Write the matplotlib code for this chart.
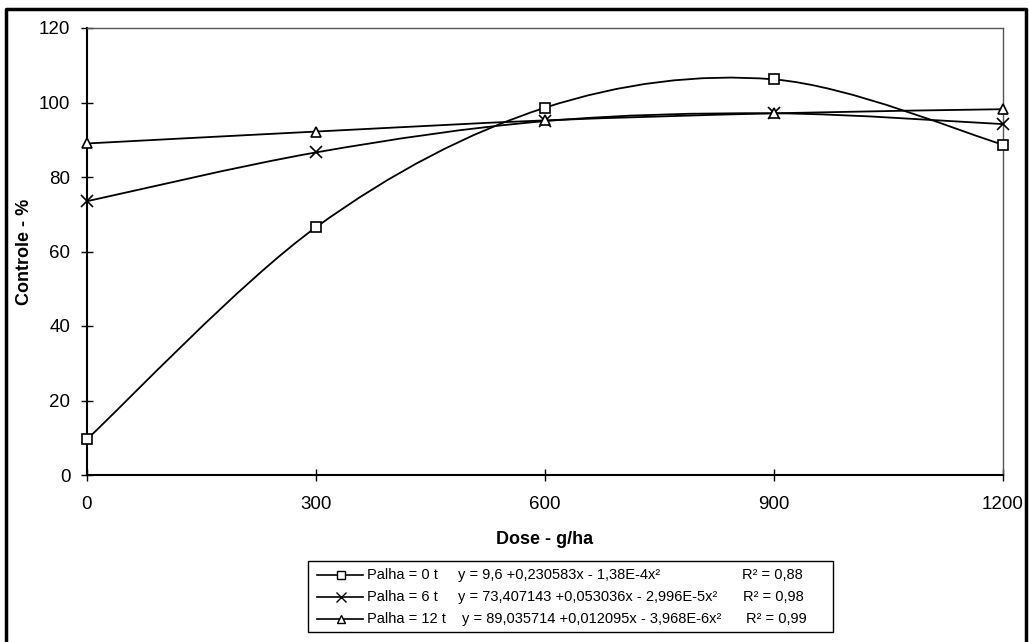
import matplotlib
matplotlib.use("Agg")
import matplotlib.pyplot as plt
import numpy as np
from matplotlib.path import Path
from matplotlib.patches import PathPatch, Rectangle
from matplotlib.lines import Line2D

plt.rcParams["font.family"] = ["Liberation Sans", "DejaVu Sans"]

# data
doses = [0, 300, 600, 900, 1200]
palha_0 = [9.6, 66.5, 98.6, 106.2, 88.7]
palha_6 = [73.5, 86.6, 95.0, 97.1, 94.2]
palha_12 = [89.0, 92.2, 95.2, 97.1, 98.2]

series_labels = ["Palha = 0 t", "Palha = 6 t", "Palha = 12 t"]
equations = [
    "y = 9,6 +0,230583x - 1,38E-4x²",
    "y = 73,407143 +0,053036x - 2,996E-5x²",
    "y = 89,035714 +0,012095x - 3,968E-6x²",
]
r2_labels = ["R² = 0,88", "R² = 0,98", "R² = 0,99"]
markers = ["s", "x", "^"]
msizes = [7, 9, 7.5]


def smooth_path(x, y):
    """Excel-like smoothed line: cubic Bezier with Catmull-Rom control points."""
    pts = np.column_stack([x, y]).astype(float)
    n = len(pts)
    verts = [pts[0]]
    codes = [Path.MOVETO]
    for i in range(n - 1):
        p0 = pts[max(i - 1, 0)]
        p1 = pts[i]
        p2 = pts[i + 1]
        p3 = pts[min(i + 2, n - 1)]
        c1 = p1 + (p2 - p0) / 6.0
        c2 = p2 - (p3 - p1) / 6.0
        verts += [c1, c2, p2]
        codes += [Path.CURVE4] * 3
    return Path(verts, codes)


fig = plt.figure(figsize=(10.29, 6.42), dpi=100)
ax = fig.add_axes([87 / 1029, 1 - 475 / 642, 916 / 1029, 447 / 642])

for yy, mk, ms in zip([palha_0, palha_6, palha_12], markers, msizes):
    ax.add_patch(PathPatch(smooth_path(doses, yy), facecolor="none",
                           edgecolor="black", lw=1.3, zorder=2))
    ax.plot(doses, yy, ls="none", marker=mk, ms=ms, mfc="white", mec="black",
            mew=1.2, zorder=3, clip_on=False)

ax.set_xlim(0, 1200)
ax.set_ylim(0, 120)
ax.set_xticks(doses)
ax.set_yticks(np.arange(0, 121, 20))
ax.tick_params(direction="inout", length=8, width=1, labelsize=13.5)
ax.tick_params(axis="y", pad=8)
ax.tick_params(axis="x", pad=11)
for s in ["left", "bottom"]:
    ax.spines[s].set_linewidth(1.5)
    ax.spines[s].set_color("black")
for s in ["top", "right"]:
    ax.spines[s].set_linewidth(1.0)
    ax.spines[s].set_color("#555555")

ax.set_xlabel("Dose - g/ha", fontsize=13, fontweight="bold")
ax.set_ylabel("Controle - %", fontsize=13, fontweight="bold")
ax.yaxis.set_label_coords((25 - 87) / 916, 0.5)
ax.xaxis.set_label_coords(0.5, (475 - 540) / 447)
ax.xaxis.label.set_va("center")
ax.yaxis.label.set_va("center")

# legend box, drawn in figure pixels
W, H = 1029, 642


def fx(px):
    return px / W


def fy(py):
    return 1 - py / H


box = Rectangle((fx(308), fy(632)), fx(833) - fx(308), fy(561) - fy(632),
                transform=fig.transFigure, facecolor="white",
                edgecolor="black", lw=1.0)
fig.add_artist(box)
rows_y = [575, 597, 619]
eq_x = [458, 458, 462]
r2_x = [742, 743, 746]
for i, ry in enumerate(rows_y):
    fig.add_artist(Line2D([fx(317), fx(363)], [fy(ry), fy(ry)], color="black", lw=1.2,
                          transform=fig.transFigure))
    fig.add_artist(Line2D([fx(341)], [fy(ry)], marker=markers[i], ms=msizes[i] * 0.75,
                          mfc="white", mec="black", mew=1.0, transform=fig.transFigure))
    fig.text(fx(367), fy(ry), series_labels[i], fontsize=10.5, va="center", ha="left")
    fig.text(fx(eq_x[i]), fy(ry), equations[i], fontsize=10.5, va="center", ha="left")
    fig.text(fx(r2_x[i]), fy(ry), r2_labels[i], fontsize=10.5, va="center", ha="left")

# outer chart border (left, top, right)
fig.add_artist(Line2D([fx(6), fx(6), fx(1026), fx(1026)],
                      [0, fy(9), fy(9), 0], color="black", lw=2.5,
                      transform=fig.transFigure))

fig.savefig("out.png", dpi=100)
